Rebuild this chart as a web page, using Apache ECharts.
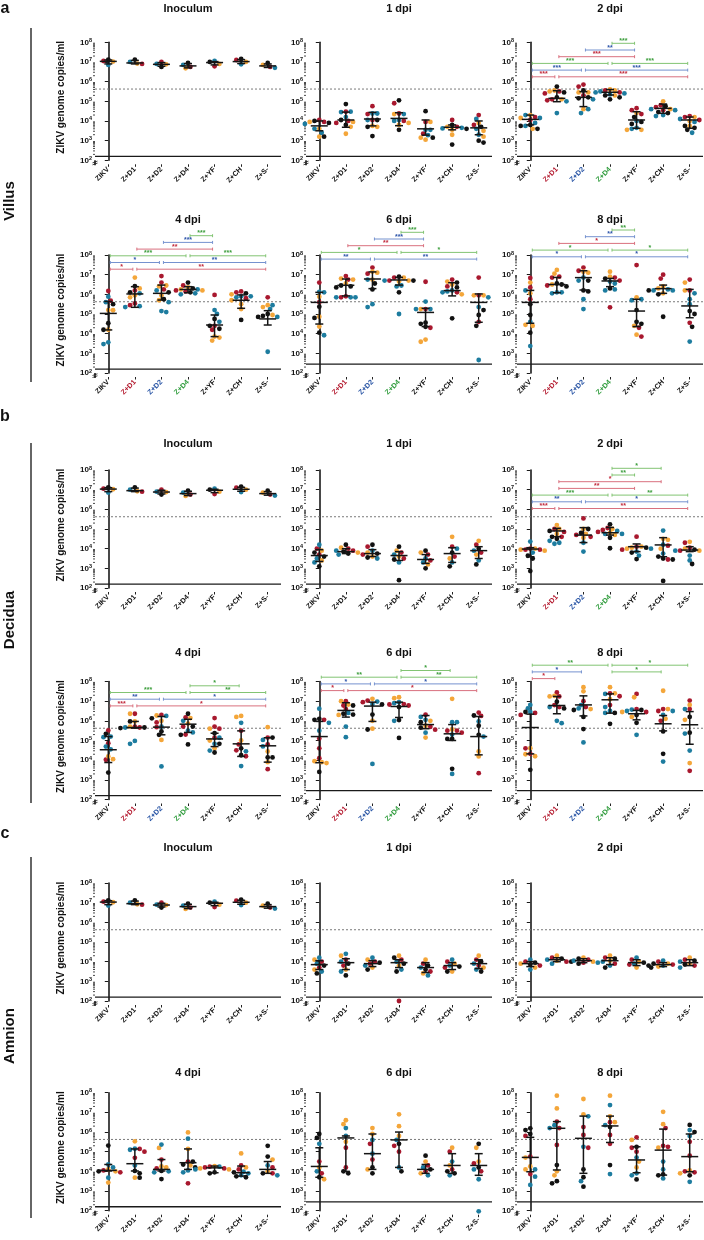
<!DOCTYPE html>
<html><head><meta charset="utf-8">
<script src="https://cdn.jsdelivr.net/npm/echarts@6/dist/echarts.min.js"></script>
<style>html,body{margin:0;padding:0;background:#fff}#c{width:704px;height:1240px}</style>
</head><body><div id="c"></div>
<script>
// ---------------- DATA (log10 genome copies/ml) ----------------
const categories = ['ZIKV','Z+D1','Z+D2','Z+D4','Z+YF','Z+CH','Z+S-'];
const tissues = ['Villus','Decidua','Amnion'];
const sectionLetters = ['a','b','c'];
const timepoints = ['Inoculum','1 dpi','2 dpi','4 dpi','6 dpi','8 dpi'];
const dashedLevel = 4.2e5;
const lodByTime = [158,158,158,158,282,282];
// each group: [red donor, orange donor, blue donor, black donor]
const inoculumPts = [
 [[7.05],[7.02],[6.85],[7.12]],
 [[6.9],[6.92],[7.0],[7.12]],
 [[7.0],[6.88],[6.9],[6.75]],
 [[6.75],[6.68],[6.85],[6.95]],
 [[6.78],[6.9],[7.05],[7.0]],
 [[7.1],[7.0],[6.88],[7.15]],
 [[6.75],[6.85],[6.7],[6.95]]];
const inoculumStats = [[7.03,6.9,7.1],[6.95,6.9,7.08],[6.88,6.78,6.97],[6.8,6.7,6.92],[6.97,6.85,7.02],[7.02,6.92,7.12],[6.8,6.72,6.9]];

const villus1Pts = [
 [[4.05,3.95],[3.95,3.2,3.6],[3.85,3.6,3.4],[4.0,3.2,3.9]],
 [[4.47,4.0,3.9],[3.95,3.7,3.35],[4.47,4.45,4.2],[4.86,3.8,4.05]],
 [[4.75,4.35,4.05],[3.7,3.75],[4.38,4.38,4.05],[4.05,3.7,3.23]],
 [[4.9,4.38,4.0],[4.35,3.8,3.9],[4.35,4.05,4.0],[5.05,3.55]],
 [[3.95,3.35],[3.95,3.05,3.15],[3.55,3.28,3.55],[4.5,3.15]],
 [[4.05,3.7],[3.55,3.7,3.3],[3.65,3.62],[3.8,2.8,3.6]],
 [[4.3,3.8],[3.9,3.5,3.2],[4.1,3.6,3.3],[3.0,3.7,2.9]]];
const villus1Stats = [[3.75,3.5,4.0],[4.05,3.68,4.45],[4.1,3.75,4.44],[4.13,3.76,4.42],[3.6,3.28,4.05],[3.68,3.55,3.8],[3.65,3.3,4.0]];

const villus2Pts = [
 [[4.2,4.05],[4.3,4.15,3.6],[4.3,4.15,3.9,3.75],[3.8,3.75,3.6]],
 [[5.5,5.4,5.1,5.05],[5.55,5.5,5.1],[5.0,4.4],[5.75,5.45,5.2]],
 [[5.85,5.75,5.3],[5.45,5.45,4.6],[5.1,4.6,4.4],[5.55,5.15,5.2]],
 [[5.55,5.45],[5.6,5.55,5.3],[5.5,5.4,5.35,5.45],[5.3,5.2,5.1]],
 [[4.65,4.55,4.35],[4.4,3.55,3.55],[4.0,3.65,3.6],[4.2,3.85,3.95]],
 [[4.8,4.7,4.55],[5.0,4.6],[4.55,4.3,4.25,4.6],[4.75,4.45,4.4]],
 [[4.25,4.2,4.05],[4.2,4.0,3.75],[4.1,3.95,3.4],[3.75,3.55,3.65]]];
const villus2Stats = [[4.08,3.8,4.3],[5.15,4.98,5.54],[5.2,4.73,5.49],[5.46,5.32,5.6],[4.05,3.63,4.47],[4.64,4.39,4.86],[4.05,3.63,4.2]];

const villus4Pts = [
 [[6.17,5.68],[5.19,5.2,4.2],[5.88,3.47,3.56,5.6],[5.5,4.53,4.2]],
 [[6.2,5.54,5.45],[6.85,6.3,5.95,5.85],[6.05,5.4,5.35],[6.42,6.1]],
 [[6.93,6.6,6.25],[6.45,6.4,5.95,5.7],[6.2,5.6,5.15,5.1],[6.1,5.75]],
 [[6.45,6.2,6.15],[6.35,6.25,6.2],[6.25,6.05,6.0],[6.6,6.3,6.1]],
 [[5.97,4.4,4.2],[3.8,3.65,3.85],[5.2,5.0,4.6],[4.75,4.25,4.4]],
 [[6.15,6.1,5.8],[6.0,5.5,5.25,5.7],[5.9,5.85,5.9],[6.05,4.7]],
 [[5.85],[5.45,5.35,4.95],[5.45,5.25,4.85,3.08],[5.0,4.9,4.85]]];
const villus4Stats = [[5.03,4.19,5.64],[6.02,5.34,6.39],[6.05,5.71,6.47],[6.25,6.08,6.39],[4.44,3.85,4.95],[5.7,5.29,5.97],[4.75,4.44,5.17]];

const villus6Pts = [
 [[6.6,5.6],[5.88,4.86,4.36],[6.1,6.13,3.92],[5.37,4.8,4.05]],
 [[6.93,6.75,5.85,5.9],[6.75,6.8,6.55],[5.85,5.85,5.85],[6.35,6.45,6.4]],
 [[7.36,7.05],[7.15,7.1,6.75],[6.75,5.5,5.35],[6.55,6.25]],
 [[6.85,6.7],[6.85,6.65,6.7],[6.7,6.4,6.45,5.0],[6.9,6.7,6.1]],
 [[6.64,5.25,4.3],[5.25,3.59,3.7],[5.63,5.25,5.25],[4.56,4.5,4.35]],
 [[6.75,6.4,6.1],[6.65,6.5,6.0],[6.2,6.1,6.15],[6.6,6.35,4.78]],
 [[6.85,5.95,4.6],[5.95,5.95],[5.85,5.35,2.66],[5.2,4.95,4.4]]];
const villus6Stats = [[5.59,4.49,6.1],[6.46,5.92,6.78],[6.78,6.29,7.14],[6.73,6.47,6.86],[5.08,4.36,5.29],[6.19,5.92,6.59],[5.59,4.58,6.02]];

const villus8Pts = [
 [[6.83,6.35,5.75],[6.6,6.05,4.45,4.4],[6.2,4.6,3.37],[5.5,4.95,4.05]],
 [[6.9,6.85,6.45],[7.24,7.05,6.5],[6.1,6.1,6.05],[6.5,6.55,6.4]],
 [[7.36,7.2],[7.15,7.1],[6.85,6.7,5.75,5.25],[6.7,6.15,6.2]],
 [[6.85,6.7,5.34],[7.15,6.9],[6.65,6.55,6.2,6.25],[6.8,6.3]],
 [[7.49,4.3,3.85],[5.85,4.4,3.95],[5.75,5.7],[5.2,4.6,4.5]],
 [[7.0,6.8],[6.4,6.3,6.05],[6.25,6.2,6.2],[6.2,6.0,4.86]],
 [[6.75,6.2,4.55],[6.6,6.2],[6.05,5.75,5.5,3.6],[5.15,5.0,4.35]]];
const villus8Stats = [[5.59,4.53,6.2],[6.5,6.08,6.86],[6.85,6.22,7.2],[6.68,6.39,6.81],[5.15,4.36,5.75],[6.29,6.05,6.47],[5.41,4.81,6.25]];

const decidua1Pts = [
 [[4.0,3.7],[3.9,3.4],[4.2,3.5,3.3],[3.8,3.1,3.6]],
 [[4.0,3.9],[4.05,3.8],[3.9,3.7],[4.2,3.85,3.75]],
 [[4.1,3.7],[3.8,3.6],[3.9,3.5],[4.2,3.75,3.55]],
 [[3.8,3.5],[3.9,3.6],[3.7,3.3],[4.1,3.45,2.4]],
 [[3.7,3.4],[3.8,3.2],[3.5,3.3],[3.9,3.0]],
 [[4.1,3.6],[4.6,3.5],[4.0,3.3],[3.8,3.1]],
 [[4.2,3.8],[4.4,3.7],[3.9,3.4],[4.0,3.2]]];
const decidua1Stats = [[3.65,3.35,3.95],[3.85,3.75,4.0],[3.75,3.6,3.95],[3.65,3.4,3.85],[3.45,3.25,3.7],[3.75,3.3,4.05],[3.9,3.5,4.1]];

const decidua2Pts = [
 [[4.0,3.95,3.95],[4.0,3.9,3.95],[4.36,3.8],[3.64,3.5,2.86]],
 [[5.0,4.85,4.6],[5.2,5.0,4.75],[4.4,4.25,4.3],[4.9,4.5,4.6]],
 [[5.54,4.6,4.7],[5.0,4.75,4.55],[4.3,3.85],[5.0,4.8]],
 [[5.05,4.95,4.85],[5.0,4.8,4.7],[4.9,4.75,4.75],[5.24,4.55,4.02]],
 [[4.61,4.1,3.95],[4.1,4.0,4.05],[4.0,3.85,3.65],[4.05,3.8,3.47]],
 [[4.15,3.45],[4.45,4.5,4.0],[4.92,4.2,3.75],[3.6,3.5,3.45,2.36]],
 [[4.3,4.05,3.9],[4.35,4.0,3.9],[3.9,3.65,3.4],[3.95,3.22]]];
const decidua2Stats = [[3.98,3.59,4.05],[4.9,4.61,5.03],[4.69,4.31,5.07],[4.81,4.69,5.08],[4.1,3.85,4.24],[4.19,3.59,4.56],[3.93,3.85,4.1]];

const decidua4Pts = [
 [[5.51,4.86,4.02],[4.19,4.05],[5.2,5.17,4.69,4.55],[5.34,3.37]],
 [[6.36,5.71,5.66],[6.36,5.97,5.71],[5.66,4.83,4.98],[5.97,5.66,5.63]],
 [[6.3,5.92,5.68],[6.27,6.0,5.03],[6.25,5.7,3.68],[6.13,5.46,5.29]],
 [[6.17,5.71,5.3],[6.14,5.86],[6.0,5.5,5.41],[6.36,5.71,5.29,4.8]],
 [[6.14,5.71,5.6,5.14],[5.6,5.0,4.61],[5.14,4.83,4.49],[5.37,4.83,4.39]],
 [[5.5,4.8,4.5,4.2],[6.25,6.2,5.0],[5.9,4.45,3.7],[4.25,4.6]],
 [[5.15,4.8,3.54],[5.68,4.44,3.9],[5.03,4.7],[5.15,4.14,4.14]]];
const decidua4Stats = [[4.53,3.88,5.2],[5.66,5.63,5.97],[5.68,5.29,6.22],[5.83,5.41,6.08],[5.08,4.69,5.37],[4.83,4.19,5.49],[4.73,3.9,5.14]];

const decidua6Pts = [
 [[6.05,5.1,4.6,4.1],[3.9,3.95,3.85],[6.62,5.9,5.5],[6.1,6.05,3.4]],
 [[7.0,6.78,6.6],[7.0,6.83,6.3],[6.4,5.71,5.17],[6.78,6.36,6.32]],
 [[7.03,6.95],[7.12,6.0,5.6],[6.98,6.85,3.81],[6.83,6.32,5.56]],
 [[6.83,6.85,6.78],[7.15,7.2],[6.95,6.9,6.0],[6.7,6.04,5.13]],
 [[6.31,5.7,5.55],[6.0,5.75,5.15],[6.2,6.05,5.4],[5.93,5.65]],
 [[5.5,5.5,5.4],[7.12,5.56],[5.93,5.93,5.3,3.3],[5.08,5.08,3.56]],
 [[6.42,6.25,3.34],[4.44,4.19],[5.97,5.2],[6.27,5.75,5.29]]];
const decidua6Stats = [[5.2,3.87,5.97],[6.53,6.19,6.92],[6.75,5.97,6.95],[6.73,6.17,6.95],[5.81,5.6,6.27],[5.34,5.0,5.81],[5.2,4.27,6.22]];

const decidua8Pts = [
 [[6.4,6.3,4.6,4.32],[4.61,4.3,4.2],[6.81,6.63,6.45],[6.45,3.51]],
 [[7.44,7.24,6.8,6.7],[7.27,7.24],[6.7,6.0,5.88],[6.97,6.63]],
 [[7.0,6.7],[7.71,7.5,6.6],[6.8,6.63,4.9],[6.55,6.2,5.58]],
 [[7.4,7.25,6.8],[7.71,7.4,7.1],[7.37,6.5,6.4,6.7],[6.4,5.85]],
 [[7.37,6.6,6.45],[7.2,6.45,6.2],[6.57,6.5,5.29],[6.55,6.3,5.9]],
 [[6.6,6.5,6.0],[7.53,6.6,6.1],[6.5,6.3,3.93],[5.46,4.32]],
 [[7.03,6.6,3.46],[6.81,6.05,3.85],[6.6,5.35,4.49],[6.2,5.4]]];
const decidua8Stats = [[5.66,4.32,6.34],[6.78,6.36,7.24],[6.81,6.25,7.27],[7.07,6.39,7.37],[6.36,6.05,6.53],[5.85,5.49,6.27],[5.8,4.81,6.47]];

const amnion1Pts = [
 [[4.0,3.7],[4.1,3.6],[3.9,3.5,4.2],[3.8,3.4]],
 [[4.1,3.8],[4.3,3.6],[4.4,4.0,3.5],[3.9,3.3]],
 [[4.0,3.9],[4.1,3.7],[3.8,4.2],[3.95,3.6]],
 [[4.1,2.0],[4.3,3.8],[4.0,3.6],[3.9,3.5,4.2]],
 [[3.9,3.5],[4.1,3.4],[3.7,3.3],[3.8,3.6]],
 [[4.0,3.7],[3.9,3.5],[3.8,4.1],[3.75,3.5]],
 [[4.1,3.8],[4.3,3.7],[3.9,3.6],[4.0,3.5]]];
const amnion1Stats = [[3.85,3.6,4.05],[3.95,3.6,4.15],[3.9,3.75,4.05],[3.95,3.7,4.1],[3.7,3.45,3.95],[3.8,3.6,3.95],[3.9,3.65,4.1]];

const amnion2Pts = [
 [[4.0,3.8],[3.9,3.7],[4.1,3.6],[3.85,3.95]],
 [[4.2,4.0],[4.3,4.05],[4.1,3.9],[4.0,4.15]],
 [[4.1,3.95],[4.2,4.0],[3.95,4.05],[4.15,3.9]],
 [[4.2,3.9],[4.3,4.05],[4.0,3.8],[4.15,3.7]],
 [[4.1,3.85],[4.0,3.7],[4.2,3.9],[3.95,3.8]],
 [[4.0,3.85],[3.9,3.75],[3.8,4.05],[3.9,3.7]],
 [[4.1,3.8],[4.2,3.9],[4.0,3.7],[3.85,4.05]]];
const amnion2Stats = [[3.9,3.75,4.0],[4.1,4.0,4.2],[4.05,3.95,4.15],[4.05,3.85,4.2],[3.95,3.8,4.1],[3.85,3.75,3.95],[3.95,3.8,4.1]];

const amnion4Pts = [
 [[4.05,3.95],[4.1,4.0,3.43],[4.35,4.2,3.68],[5.31,4.0]],
 [[5.14,5.0,4.69],[5.53,3.68],[5.15,5.1,4.3],[4.02,3.68,3.9]],
 [[4.6,4.15],[5.19,4.25,4.2],[5.36,3.95,4.0],[4.02,3.61]],
 [[4.5,3.39],[5.98,5.14,4.3],[5.66,4.05,3.95],[4.5,4.35,4.2]],
 [[4.24,4.2,4.15],[4.27,4.15,4.1],[4.24,4.1],[3.95,3.9]],
 [[4.3,4.1],[4.91,4.2],[3.98,3.8,3.9],[3.95,3.75,3.7]],
 [[4.2,3.9],[4.6,4.0],[4.3,3.8],[5.3,4.75,3.9]]];
const amnion4Stats = [[4.05,4.02,4.35],[4.39,4.02,5.14],[4.1,4.02,4.6],[4.44,4.1,5.14],[4.18,3.93,4.27],[3.93,3.76,4.27],[4.1,3.9,4.5]];

const amnion6Pts = [
 [[4.5,3.9],[4.2,3.6],[5.4,4.0],[5.9,5.7,3.7]],
 [[5.2,4.2],[6.6,6.4,5.5],[6.2,5.8],[4.0,3.9]],
 [[5.4,4.6],[6.2,5.9,4.1],[5.6,4.9],[4.2,3.9]],
 [[5.3,5.0],[6.9,6.3,5.8],[5.6,4.2],[5.4,4.0]],
 [[4.3,4.0],[4.5,3.9],[4.2,3.8],[4.8,4.1]],
 [[5.0,4.1],[5.2,4.3],[4.5,3.8],[4.0,3.9]],
 [[4.4,4.0],[5.2,4.5],[4.1,3.6,1.97],[5.4,4.2]]];
const amnion6Stats = [[4.25,3.7,5.2],[5.7,4.0,5.8],[4.9,4.1,5.9],[5.6,4.2,6.0],[4.1,3.9,4.35],[4.3,3.9,4.9],[4.3,3.8,4.9]];

const amnion8Pts = [
 [[5.8,4.75,3.86],[4.7,4.25,4.1],[4.1,3.73,3.31],[6.19,6.1,5.9]],
 [[6.53,6.2,5.34],[7.85,7.2,4.0,3.8],[6.35,6.2],[4.32,3.39,3.5]],
 [[6.25,5.85,5.2],[7.68,6.9],[6.8,5.25,3.5],[4.1,3.7,3.22]],
 [[6.5,5.85,5.4],[7.85,6.8,6.5],[7.37,6.35,3.86],[6.25,4.32]],
 [[5.73,5.2,5.0],[5.6,4.5,4.2],[4.7,3.9,3.8],[5.25,3.59]],
 [[6.2,5.3,5.25],[7.03,6.4,5.2],[4.5,4.1,3.64],[3.8,3.85]],
 [[5.5,4.8,4.0,3.95],[4.05,3.9],[6.1,5.8,3.47],[6.36,6.0,3.8]]];
const amnion8Stats = [[4.71,3.98,5.73],[6.19,4.07,6.53],[5.68,3.9,6.81],[6.31,5.47,6.81],[4.58,3.93,5.25],[5.08,3.81,6.15],[4.75,3.98,5.9]];

// significance brackets: [fromGroup, toGroup, level, colour (0 red,1 blue,2 green), label]
const villus2Brackets = [[3,4,0,2,'***'],[2,4,1,1,'**'],[1,4,2,0,'***'],[0,3,3,2,'***'],[3,6,3,2,'***'],[0,2,4,1,'***'],[2,6,4,1,'***'],[0,1,5,0,'***'],[1,6,5,0,'***']];
const villus4Brackets = [[3,4,0,2,'***'],[2,4,1,1,'***'],[1,4,2,0,'**'],[0,3,3,2,'***'],[3,6,3,2,'***'],[0,2,4,1,'*'],[2,6,4,1,'**'],[0,1,5,0,'*'],[1,6,5,0,'**']];
const villus6Brackets = [[3,4,0,2,'***'],[2,4,1,1,'***'],[1,4,2,0,'**'],[0,3,3,2,'*'],[3,6,3,2,'*'],[0,2,4,1,'**'],[2,6,4,1,'**']];
const villus8Brackets = [[3,4,0,2,'**'],[2,4,1,1,'**'],[1,4,2,0,'*'],[0,3,3,2,'*'],[3,6,3,2,'*'],[0,2,4,1,'*'],[2,6,4,1,'*']];
const decidua2Brackets = [[3,5,0,2,'*'],[3,4,1,2,'**'],[1,5,2,0,'*'],[1,4,3,0,'**'],[0,3,4,2,'***'],[3,6,4,2,'**'],[0,2,5,1,'**'],[2,6,5,1,'*'],[0,1,6,0,'***'],[1,6,6,0,'**']];
const decidua4Brackets = [[3,5,0,2,'*'],[0,3,1,2,'***'],[3,6,1,2,'**'],[0,2,2,1,'**'],[2,6,2,1,'*'],[0,1,3,0,'***'],[1,6,3,0,'*']];
const decidua6Brackets = [[3,5,0,2,'*'],[0,3,1,2,'**'],[3,6,1,2,'**'],[0,2,2,1,'*'],[2,6,2,1,'*'],[0,1,3,0,'*'],[1,6,3,0,'*']];
const decidua8Brackets = [[0,3,0,2,'**'],[3,6,0,2,'*'],[0,2,1,1,'*'],[3,5,1,2,'*'],[0,1,2,0,'*']];

// ---------------- LAYOUT / STYLE ----------------
const FF = '"Liberation Sans", Arial, Helvetica, sans-serif';
const donorColors = ['#a8182e','#f4a63a','#1d7c9f','#111111'];
const bracketLine = ['#d9707e','#7592cf','#82c473'];
const bracketStar = ['#c22a3c','#2d55aa','#3c9e3c'];
const labelColors = ['#111','#b3182d','#2451a3','#2d9b3a','#111','#111','#111'];
const colLeft = [95, 306, 517], gridW = 186, gridH = 118;
const rowTop = [42.3, 255, 470, 681.5, 883, 1092.7];
const titleY = [8.5, 219.5, 443.5, 652.5, 848, 1072.5];
const BAND = gridW / 7, PXDEC = gridH / 6, DOT = 4.8, COLL = 4.0, LEVEL = 6.7;

const sections = [
 {pts:[inoculumPts,villus1Pts,villus2Pts,villus4Pts,villus6Pts,villus8Pts],
  stats:[inoculumStats,villus1Stats,villus2Stats,villus4Stats,villus6Stats,villus8Stats],
  br:[null,null,villus2Brackets,villus4Brackets,villus6Brackets,villus8Brackets],
  base:[0,0,1,-19.3,-22.7,-25], colored:[0,0,1,1,1,1]},
 {pts:[inoculumPts,decidua1Pts,decidua2Pts,decidua4Pts,decidua6Pts,decidua8Pts],
  stats:[inoculumStats,decidua1Stats,decidua2Stats,decidua4Stats,decidua6Stats,decidua8Stats],
  br:[null,null,decidua2Brackets,decidua4Brackets,decidua6Brackets,decidua8Brackets],
  base:[0,0,-1.7,4.3,-11,-16.3], colored:[0,0,1,1,1,1]},
 {pts:[inoculumPts,amnion1Pts,amnion2Pts,amnion4Pts,amnion6Pts,amnion8Pts],
  stats:[inoculumStats,amnion1Stats,amnion2Stats,amnion4Stats,amnion6Stats,amnion8Stats],
  br:[null,null,null,null,null,null], base:[0,0,0,0,0,0], colored:[0,0,0,0,0,0]}
];

function swarm(list){
  const idx = list.map((_,i)=>i).sort((a,b)=>list[b].v-list[a].v);
  const placed=[]; const offs=new Array(list.length).fill(0);
  idx.forEach((i,n)=>{
    const y=list[i].v*PXDEC; const step=COLL*0.6; let cand=0;
    const flip = (n%2===0)?1:-1;
    for(let k=0;k<30;k++){
      const c = k===0?0:flip*((k%2===1)?1:-1)*Math.ceil(k/2)*step;
      if(placed.every(p=>Math.hypot(p.x-c,p.y-y)>=COLL)){cand=c;break;}
    }
    placed.push({x:cand,y}); offs[i]=cand;
  });
  return offs;
}
function buildPts(groups){
  const out=[];
  groups.forEach((g,ci)=>{
    const list=[];
    g.forEach((arr,col)=>arr.forEach(v=>list.push({v,col})));
    const offs=swarm(list);
    list.forEach((p,k)=>out.push([ci+offs[k]/BAND, Math.pow(10,p.v), p.col]));
  });
  return out;
}
function renderStat(params, api){
  const x=api.value(0);
  const pm=api.coord([x,api.value(1)]), p1=api.coord([x,api.value(2)]), p3=api.coord([x,api.value(3)]);
  const st={stroke:'#151515',lineWidth:1.5};
  return {type:'group',children:[
    {type:'line',shape:{x1:pm[0]-8.5,y1:pm[1],x2:pm[0]+8.5,y2:pm[1]},style:st},
    {type:'line',shape:{x1:p1[0],y1:p1[1],x2:p3[0],y2:p3[1]},style:st},
    {type:'line',shape:{x1:p1[0]-4,y1:p1[1],x2:p1[0]+4,y2:p1[1]},style:st},
    {type:'line',shape:{x1:p3[0]-4,y1:p3[1],x2:p3[0]+4,y2:p3[1]},style:st}
  ]};
}
const minorVals=[];
for(let n=2;n<8;n++) for(let k=2;k<10;k++) minorVals.push([-0.5,k*Math.pow(10,n)]);

const grids=[], xAxes=[], yAxes=[], series=[], graphics=[];
sections.forEach((sec,s)=>{
  for(let t=0;t<6;t++){
    const p=s*6+t, row=s*2+(t>=3?1:0), col=t%3;
    const left=colLeft[col], top=rowTop[row];
    grids.push({left,top,width:gridW,height:gridH,containLabel:false});
    const colored=sec.colored[t];
    xAxes.push({gridIndex:p,type:'category',data:categories,offset:4,
      axisLine:{show:false},axisTick:{show:true,alignWithLabel:true,length:2.5,lineStyle:{color:'#222',width:1}},
      axisLabel:{interval:0,rotate:45,fontSize:7.2,fontWeight:'bold',fontFamily:FF,margin:4,
        color: colored ? ((v,i)=>labelColors[i]) : '#111'}});
    xAxes.push({gridIndex:p,type:'value',min:-0.5,max:6.5,show:false});
    yAxes.push({gridIndex:p,type:'log',logBase:10,min:100,max:1e8,
      axisLine:{show:true,lineStyle:{color:'#1a1a1a',width:1.6}},
      axisTick:{show:true,length:3.5,lineStyle:{color:'#1a1a1a',width:1}},
      splitLine:{show:false},
      axisLabel:{margin:3,formatter:v=>'{b|10}{s|'+Math.round(Math.log10(v))+'}',
        rich:{b:{fontSize:8,fontWeight:'bold',fontFamily:FF,color:'#111'},
              s:{fontSize:5.5,fontWeight:'bold',fontFamily:FF,color:'#111',padding:[0,0,4,0]}}}});
    // dashed limit line and solid detection-limit line
    series.push({type:'line',xAxisIndex:2*p+1,yAxisIndex:p,silent:true,z:1,symbol:'none',clip:false,
      data:[[-0.5,dashedLevel],[6.5,dashedLevel]],lineStyle:{color:'#7a7a7a',width:1,type:[2,2]}});
    series.push({type:'line',xAxisIndex:2*p+1,yAxisIndex:p,silent:true,z:8,symbol:'none',clip:false,
      data:[[-0.5,lodByTime[t]],[6.5,lodByTime[t]]],lineStyle:{color:'#1a1a1a',width:1.4,type:'solid'}});
    series.push({type:'scatter',xAxisIndex:2*p+1,yAxisIndex:p,symbolSize:DOT,silent:true,clip:false,z:2,
      data:buildPts(sec.pts[t]),
      itemStyle:{opacity:1,color:pr=>donorColors[pr.data[2]]}});
    series.push({type:'custom',xAxisIndex:2*p+1,yAxisIndex:p,silent:true,z:5,
      data:sec.stats[t].map((st,i)=>[i,Math.pow(10,st[0]),Math.pow(10,st[1]),Math.pow(10,st[2])]),
      encode:{x:0,y:[1,2,3]},renderItem:renderStat});
    series.push({type:'custom',xAxisIndex:2*p+1,yAxisIndex:p,silent:true,clip:false,
      data:minorVals,encode:{x:0,y:1},
      renderItem:(pa,api)=>{const c=api.coord([-0.5,api.value(1)]);
        return {type:'line',shape:{x1:c[0]-2,y1:c[1],x2:c[0],y2:c[1]},style:{stroke:'#1a1a1a',lineWidth:0.8}};}});
    const br=sec.br[t];
    if(br){
      const base=sec.base[t];
      series.push({type:'custom',xAxisIndex:2*p+1,yAxisIndex:p,silent:true,clip:false,z:6,
        data:br.map(b=>[b[0],b[1],1e8]),encode:{x:[0,1],y:2},
        renderItem:(pa,api)=>{
          const b=br[pa.dataIndex];
          const cs=pa.coordSys;
          const x1=api.coord([b[0],1e8])[0]+2, x2=api.coord([b[1],1e8])[0]-2;
          const y=cs.y+base+b[2]*LEVEL;
          const ls={stroke:bracketLine[b[3]],lineWidth:1};
          return {type:'group',children:[
            {type:'line',shape:{x1:x1,y1:y,x2:x2,y2:y},style:ls},
            {type:'line',shape:{x1:x1,y1:y-1.5,x2:x1,y2:y+1.5},style:ls},
            {type:'line',shape:{x1:x2,y1:y-1.5,x2:x2,y2:y+1.5},style:ls},
            {type:'text',x:(x1+x2)/2,y:y+1.2,style:{text:b[4],fill:bracketStar[b[3]],
              font:'bold 7px '+FF,align:'center',verticalAlign:'bottom',textAlign:'center',textVerticalAlign:'bottom'}}
          ]};
        }});
    }
    // axis break below 10^2
    const yb=top+gridH;
    graphics.push({type:'line',shape:{x1:left,y1:yb,x2:left,y2:yb+5},style:{stroke:'#1a1a1a',lineWidth:1.6}});
    graphics.push({type:'line',shape:{x1:left-2.5,y1:yb+2.5,x2:left+2.5,y2:yb+0.8},style:{stroke:'#1a1a1a',lineWidth:0.8}});
    graphics.push({type:'line',shape:{x1:left-2.5,y1:yb+4.5,x2:left+2.5,y2:yb+2.8},style:{stroke:'#1a1a1a',lineWidth:0.8}});
    graphics.push({type:'text',x:left+gridW/2,y:titleY[row],
      style:{text:timepoints[t],font:'bold 11px '+FF,fill:'#111',align:'center',verticalAlign:'middle',textAlign:'center',textVerticalAlign:'middle'}});
    if(col===0){
      graphics.push({type:'text',x:61.5,y:top+55,rotation:Math.PI/2,
        style:{text:'ZIKV genome copies/ml',font:'bold 10px '+FF,fill:'#111',align:'center',verticalAlign:'middle',textAlign:'center',textVerticalAlign:'middle'}});
    }
  }
});
const secBars=[[28,382],[443,803],[857,1218]];
const secLetterY=[9,417,834];
const secNameY=[201,620,1036];
for(let s=0;s<3;s++){
  graphics.push({type:'line',shape:{x1:31,y1:secBars[s][0],x2:31,y2:secBars[s][1]},style:{stroke:'#333',lineWidth:1.5}});
  graphics.push({type:'text',x:5,y:secLetterY[s],style:{text:sectionLetters[s],font:'bold 16px '+FF,fill:'#111',align:'center',verticalAlign:'middle',textAlign:'center',textVerticalAlign:'middle'}});
  graphics.push({type:'text',x:10,y:secNameY[s],rotation:Math.PI/2,style:{text:tissues[s],font:'bold 15px '+FF,fill:'#111',align:'center',verticalAlign:'middle',textAlign:'center',textVerticalAlign:'middle'}});
}

const chart=echarts.init(document.getElementById('c'),null,{renderer:'canvas'});
chart.setOption({animation:false,backgroundColor:'#fff',grid:grids,xAxis:xAxes,yAxis:yAxes,series,graphic:graphics});
</script></body></html>
